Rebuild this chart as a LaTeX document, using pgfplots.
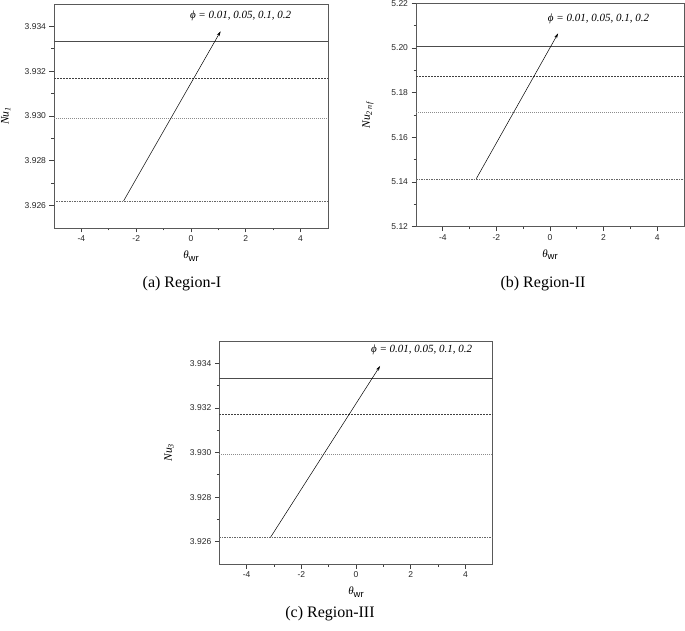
\documentclass[border=0pt]{standalone}
\usepackage{fontspec}
\setmainfont{Liberation Serif}
\setsansfont{Liberation Sans}
\usepackage{pgfplots}
\pgfplotsset{compat=1.18}
\usetikzlibrary{arrows.meta}

\tikzset{
  philab/.style={font=\fontsize{11}{12}\selectfont\itshape, anchor=center},
}
\pgfplotsset{
  panel/.style={
    scale only axis,
    anchor=south west,
    xmin=-5, xmax=5,
    xtick={-4,-2,0,2,4},
    minor x tick num=1,
    minor y tick num=1,
    tick pos=left,
    tick align=outside,
    major tick length=4.5pt,
    minor tick length=2.5pt,
    axis line style={black!65, line width=0.9pt},
    tick style={black!75, line width=0.7pt},
    ticklabel style={font=\fontsize{8.5}{9}\sffamily, black!85},
    /pgf/number format/assume math mode=true,
    xlabel={\fontsize{11}{12}\selectfont\textit{θ}\raisebox{-2.5pt}{\fontsize{9.5}{10}\sffamily wr}},
    xlabel style={at={(axis description cs:0.5,0)}, anchor=center, yshift=-28pt},
    ylabel style={at={(axis description cs:0,0.5)}, anchor=south, yshift=43pt},
    clip=false,
  },
  s1/.style={black!70, line width=0.8pt},
  s2/.style={black!75, line width=0.6pt, dash pattern=on 2pt off 1pt},
  s3/.style={black!45, line width=0.6pt, dash pattern=on 1pt off 1pt},
  s4/.style={black!60, line width=0.6pt, dash pattern=on 1.5pt off 1pt},
  arr/.style={black, line width=0.5pt, -{Stealth[length=5pt,width=3pt]}},
}

\begin{document}
\begin{tikzpicture}[x=1pt,y=1pt]
\path[use as bounding box] (0,0) rectangle (685,630);

% (a) Region-I
\begin{axis}[panel,
  at={(54pt,402pt)}, width=274pt, height=224pt,
  ymin=3.925, ymax=3.935,
  ytick={3.926,3.928,3.930,3.932,3.934},
  yticklabel style={/pgf/number format/.cd, fixed, precision=3, fixed zerofill},
  ylabel={\fontsize{11.5}{12}\selectfont\textit{Nu\textsubscript{1}}},
  ylabel style={yshift=-3pt},
]
\addplot[s1] coordinates {(-5,3.93332) (5,3.93332)};
\addplot[s2] coordinates {(-5,3.93170) (5,3.93170)};
\addplot[s3] coordinates {(-5,3.92990) (5,3.92990)};
\addplot[s4] coordinates {(-5,3.92621) (5,3.92621)};
\addplot[arr] coordinates {(-2.46,3.92621) (1.08,3.93378)};
\node[philab] at (axis cs:1.81,3.93446) {ϕ = 0.01, 0.05, 0.1, 0.2};
\end{axis}

% (b) Region-II
\begin{axis}[panel,
  at={(416pt,403.3pt)}, width=268pt, height=223.4pt,
  ymin=5.12, ymax=5.22,
  ytick={5.12,5.14,5.16,5.18,5.20,5.22},
  yticklabel style={/pgf/number format/.cd, fixed, precision=2, fixed zerofill},
  ylabel={\fontsize{11.5}{12}\selectfont\textit{Nu\textsubscript{2\,n\,f}}},
  ylabel style={yshift=-4pt},
]
\addplot[s1] coordinates {(-5,5.2005) (5,5.2005)};
\addplot[s2] coordinates {(-5,5.1871) (5,5.1871)};
\addplot[s3] coordinates {(-5,5.1711) (5,5.1711)};
\addplot[s4] coordinates {(-5,5.1414) (5,5.1414)};
\addplot[arr] coordinates {(-2.75,5.1415) (0.3,5.2065)};
\node[philab] at (axis cs:1.81,5.2129) {ϕ = 0.01, 0.05, 0.1, 0.2};
\end{axis}

% (c) Region-III
\begin{axis}[panel,
  at={(219.3pt,66pt)}, width=273.4pt, height=223pt,
  ymin=3.925, ymax=3.935,
  ytick={3.926,3.928,3.930,3.932,3.934},
  yticklabel style={/pgf/number format/.cd, fixed, precision=3, fixed zerofill},
  ylabel={\fontsize{11.5}{12}\selectfont\textit{Nu\textsubscript{3}}},
  ylabel style={yshift=-1pt},
]
\addplot[s1] coordinates {(-5,3.93333) (5,3.93333)};
\addplot[s2] coordinates {(-5,3.93171) (5,3.93171)};
\addplot[s3] coordinates {(-5,3.92991) (5,3.92991)};
\addplot[s4] coordinates {(-5,3.92621) (5,3.92621)};
\addplot[arr] coordinates {(-3.12,3.92621) (0.88,3.93388)};
\node[philab] at (axis cs:2.40,3.9346) {ϕ = 0.01, 0.05, 0.1, 0.2};
\end{axis}

\node[font=\fontsize{16}{18}\selectfont] at (182,346) {(a) Region-I};
\node[font=\fontsize{16}{18}\selectfont] at (543,346) {(b) Region-II};
\node[font=\fontsize{16}{18}\selectfont] at (330,16) {(c) Region-III};
\end{tikzpicture}
\end{document}
